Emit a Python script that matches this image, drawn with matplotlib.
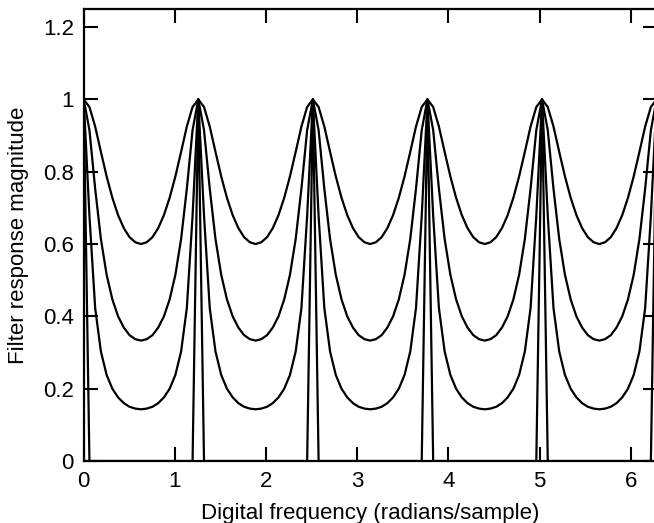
import numpy as np
import matplotlib
matplotlib.use("Agg")
import matplotlib.pyplot as plt

plt.rcParams['font.family'] = ['Liberation Sans', 'DejaVu Sans']

# Magnitude samples over half of one period (peak -> trough), 100-point grid over 2*pi, 5 periods
half_g025 = [1.000, 0.979, 0.925, 0.855, 0.787, 0.728, 0.680, 0.644, 0.619, 0.605, 0.600]
half_g050 = [1.000, 0.915, 0.753, 0.614, 0.515, 0.447, 0.400, 0.369, 0.348, 0.337, 0.333]
half_g075 = [1.000, 0.678, 0.423, 0.303, 0.238, 0.200, 0.176, 0.160, 0.150, 0.145, 0.143]
half_g100 = [1.000, 0.000, 0.000, 0.000, 0.000, 0.000, 0.000, 0.000, 0.000, 0.000, 0.000]
n_periods = 5
n_points = 100

xticks = [0, 1, 2, 3, 4, 5, 6]
yticks = [0, 0.2, 0.4, 0.6, 0.8, 1.0, 1.2]
ytick_labels = ['0', '0.2', '0.4', '0.6', '0.8', '1', '1.2']


def full_series(half):
    period = list(half) + list(half[-2:0:-1])
    return np.array(period * n_periods + [half[0]])


w = np.arange(n_points + 1) * 2 * np.pi / n_points

fig = plt.figure(figsize=(6.54, 5.23), dpi=100)
ax = fig.add_axes([0.128, 0.1185, 0.876, 0.8643])
for half in (half_g025, half_g050, half_g075, half_g100):
    ax.plot(w, full_series(half), color='black', lw=1.6, clip_on=True)

ax.set_xlim(0, 2 * np.pi)
ax.set_ylim(0, 1.25)
ax.set_xticks(xticks)
ax.set_yticks(yticks)
ax.set_yticklabels(ytick_labels)
ax.tick_params(direction='in', length=10, width=1.5, top=True, right=True,
               labelsize=16, pad=7)
for s in ax.spines.values():
    s.set_linewidth(1.6)
ax.set_xlabel('Digital frequency (radians/sample)', fontsize=16, labelpad=8)
ax.set_ylabel('Filter response magnitude', fontsize=16, labelpad=10)

fig.savefig('out.png', dpi=100)
